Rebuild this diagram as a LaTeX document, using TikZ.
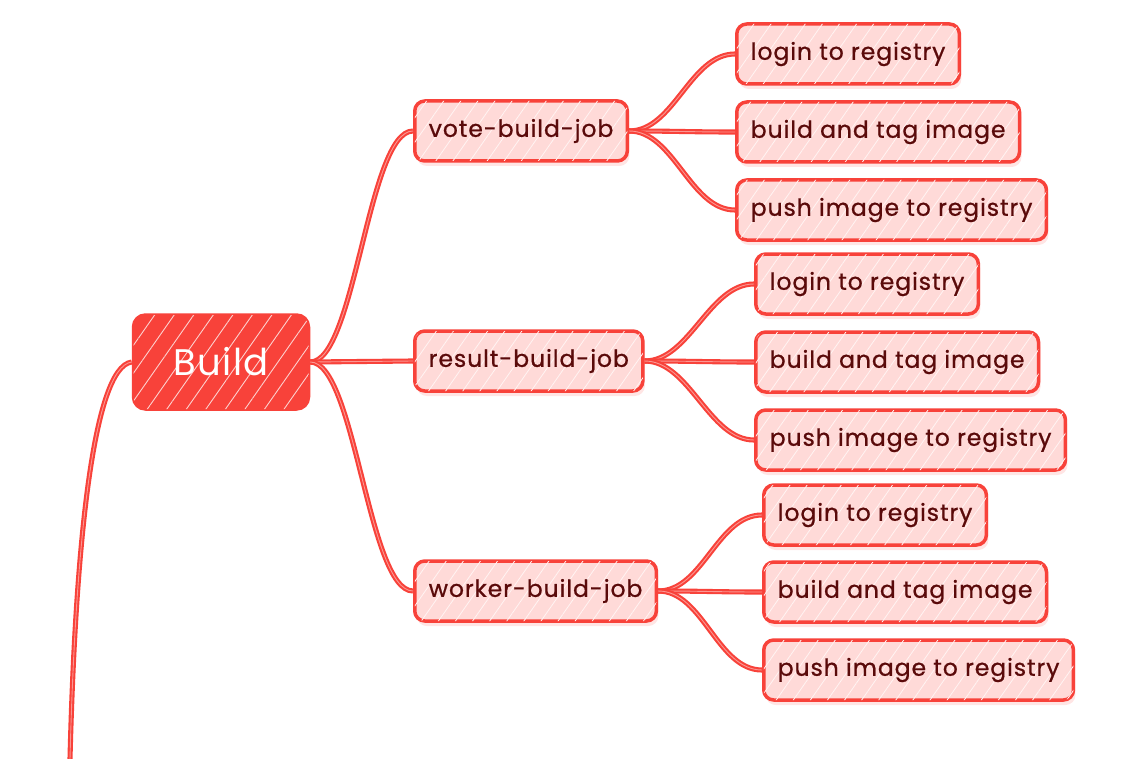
\documentclass[tikz,border=0pt]{standalone}
\usepackage{fontspec}
\setmainfont{Poppins}
\newfontfamily\nodefont[LetterSpace=4,FakeBold=0.8]{Poppins}
\newfontfamily\rootfont[LetterSpace=4]{Poppins}
\usetikzlibrary{patterns.meta}
\definecolor{redline}{RGB}{248,66,58}
\definecolor{pinkfill}{RGB}{255,218,216}
\definecolor{darktext}{RGB}{90,10,10}
\tikzset{
  leaf/.style={draw=redline, line width=3.5pt, fill=pinkfill, rounded corners=10pt,
    minimum height=60pt, inner xsep=14pt, anchor=west, text=darktext,
    font=\nodefont\fontsize{23.5}{26}\selectfont,
    preaction={draw=none, fill=pinkfill!70, transform canvas={shift={(2pt,-5pt)}}},
    postaction={pattern={Lines[angle=55,distance=14pt,line width=0.8pt]}, pattern color=white!70!pinkfill}},
  rootbox/.style={draw=redline, line width=3.5pt, fill=redline, rounded corners=12pt,
    minimum width=175pt, minimum height=94pt, text=white,
    font=\rootfont\fontsize{37}{40}\selectfont,
    postaction={pattern={Lines[angle=55,distance=16pt,line width=0.9pt]}, pattern color=white!75!redline}},
  link/.style={draw=redline, line width=2.1pt, double=redline!55, double distance=0.9pt}
}
\begin{document}
\begin{tikzpicture}[x=1pt,y=-1pt]
\useasboundingbox (0,0) rectangle (1147,759);
\node[rootbox] (build) at (221,362) {Build};
\node[leaf] (vote) at (413,131) {vote-build-job};
\node[leaf] (result) at (413,361) {result-build-job};
\node[leaf] (worker) at (413,591) {worker-build-job};
\node[leaf] (v1) at (735,54) {login to registry};
\node[leaf] (v2) at (735,132) {build and tag image};
\node[leaf] (v3) at (735,210) {push image to registry};
\node[leaf] (r1) at (754,284) {login to registry};
\node[leaf] (r2) at (754,362) {build and tag image};
\node[leaf] (r3) at (754,440) {push image to registry};
\node[leaf] (w1) at (762,515) {login to registry};
\node[leaf] (w2) at (762,592) {build and tag image};
\node[leaf] (w3) at (762,670) {push image to registry};
\coordinate (tail) at (70,759);
\draw[link] (build.east) .. controls +(45,0) and +(-45,0) .. (vote.west);
\draw[link] (build.east) -- (result.west);
\draw[link] (build.east) .. controls +(45,0) and +(-45,0) .. (worker.west);
\draw[link] (build.west) .. controls +(-40,5) and +(5,-200) .. (tail);
\foreach \p/\c in {vote/v1,vote/v2,vote/v3,result/r1,result/r2,result/r3,worker/w1,worker/w2,worker/w3}{
  \draw[link] (\p.east) .. controls +(45,0) and +(-45,0) .. (\c.west);
}
\end{tikzpicture}
\end{document}
